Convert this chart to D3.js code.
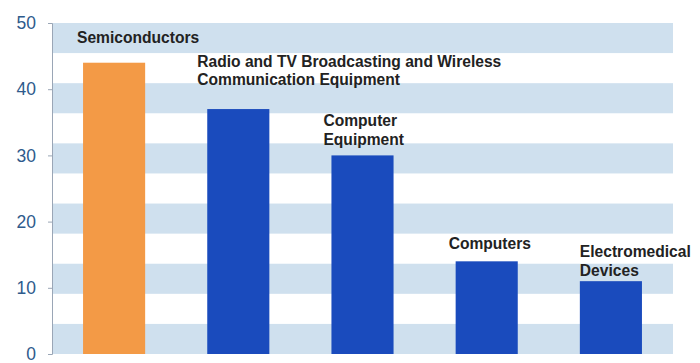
<!DOCTYPE html>
<html>
<head>
<meta charset="utf-8">
<script src="https://cdn.jsdelivr.net/npm/d3@7"></script>
<style>
  body { margin: 0; background: #fff; }
  svg { display: block; font-family: "Liberation Sans", Arial, sans-serif; }
</style>
</head>
<body>
<div id="chart"></div>
<script>
// data
var categories = ["Semiconductors", "Radio and TV Broadcasting and Wireless Communication Equipment",
                  "Computer Equipment", "Computers", "Electromedical Devices"];
var labelLines = [["Semiconductors"],
                  ["Radio and TV Broadcasting and Wireless", "Communication Equipment"],
                  ["Computer", "Equipment"],
                  ["Computers"],
                  ["Electromedical", "Devices"]];
var values = [44, 37, 30, 14, 11];
var yTicks = [0, 10, 20, 30, 40, 50];

// label placement (baseline of last line in value units, x shift from bar left in px)
var labelAt = [47.0, 40.6, 31.6, 15.9, 11.8];
var labelDx = [-6, -10, -8, -7, 0];

var W = 700, H = 363;
var margin = {top: 23, right: 27, bottom: 9, left: 52},
    width = W - margin.left - margin.right,
    height = H - margin.top - margin.bottom;

var svg = d3.select("#chart").append("svg")
    .attr("width", W)
    .attr("height", H)
    .append("g")
    .attr("transform", `translate(${margin.left},${margin.top})`);

var x = d3.scaleBand()
    .domain(categories)
    .range([0, width])
    .paddingInner(0.5)
    .paddingOuter(0.25);

var y = d3.scaleLinear()
    .domain([0, 50])
    .range([height, 0]);

// striped background, 11 equal stripes
var stripes = d3.scaleBand().domain(d3.range(11)).range([0, height]);
svg.selectAll(".stripe")
    .data(d3.range(0, 11, 2))
    .enter().append("rect")
    .attr("class", "stripe")
    .attr("x", 0)
    .attr("width", width)
    .attr("y", d => stripes(d))
    .attr("height", stripes.bandwidth())
    .attr("fill", "#cfe0ee");

// y axis
var yAxis = svg.append("g")
    .call(d3.axisLeft(y).tickValues(yTicks).tickSize(4).tickPadding(12));
yAxis.select(".domain").attr("stroke", "#9aa6b6");
yAxis.selectAll(".tick line").attr("stroke", "#9aa6b6");
yAxis.selectAll(".tick text")
    .attr("fill", "#2e5a8c")
    .style("font-size", "17.5px")
    .style("font-family", "Liberation Sans, Arial, sans-serif");

// bars
svg.selectAll(".bar")
    .data(values)
    .enter().append("rect")
    .attr("class", "bar")
    .attr("x", (d, i) => x(categories[i]))
    .attr("width", x.bandwidth())
    .attr("y", d => y(d))
    .attr("height", d => height - y(d))
    .attr("fill", (d, i) => i === 0 ? "#f39a46" : "#1a4bbd");

// labels
var lineH = 18.5;
labelLines.forEach(function(lines, i) {
    var t = svg.append("text")
        .attr("x", x(categories[i]) + labelDx[i])
        .attr("y", y(labelAt[i]) - (lines.length - 1) * lineH)
        .attr("fill", "#222")
        .style("font-size", "15.6px")
        .style("font-weight", "bold");
    lines.forEach(function(l, j) {
        t.append("tspan")
            .attr("x", x(categories[i]) + labelDx[i])
            .attr("dy", j === 0 ? 0 : lineH)
            .text(l);
    });
});
</script>
</body>
</html>
